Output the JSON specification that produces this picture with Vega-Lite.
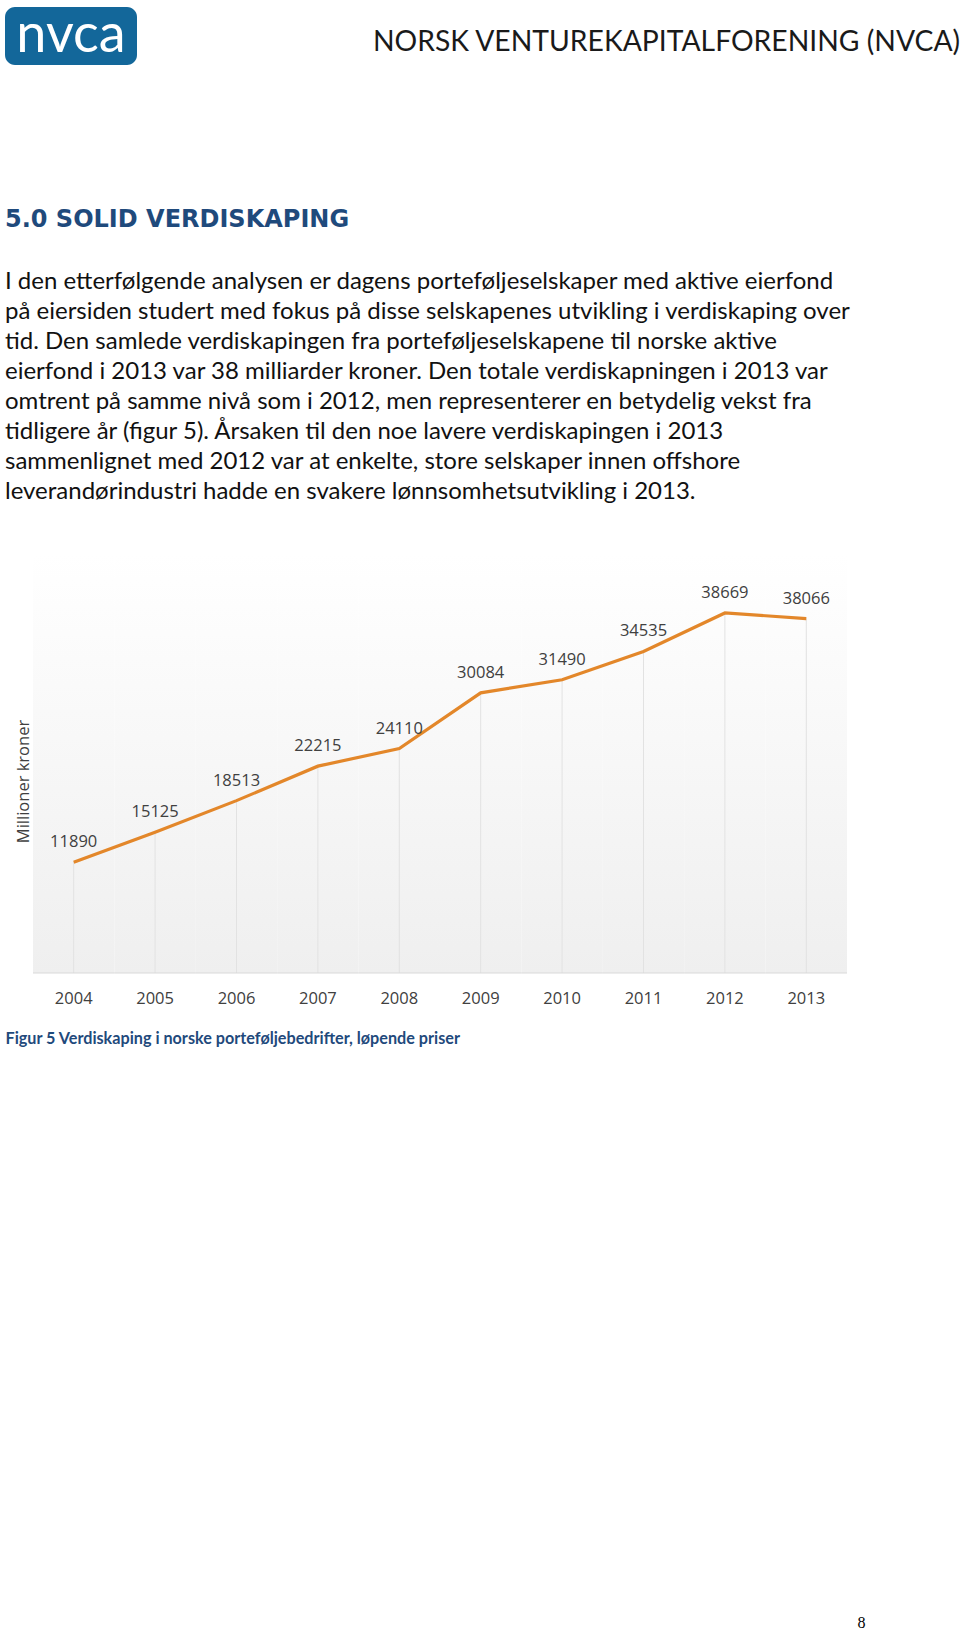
{
  "$schema": "https://vega.github.io/schema/vega-lite/v6.json",
  "background": "white",
  "padding": {"left": 5, "top": 7, "right": 0, "bottom": 0},
  "config": {"view": {"stroke": null}},
  "title": {"text": "8", "orient": "bottom", "anchor": "end", "frame": "bounds", "font": "Liberation Serif", "fontSize": 16, "fontWeight": "normal", "color": "#000000", "offset": 568, "dx": -95},
  "spacing": 143,
  "vconcat": [
    {
      "spacing": 235,
      "hconcat": [
        {
          "width": 132,
          "height": 58,
          "view": {"fill": "#13679a", "cornerRadius": 10, "stroke": null},
          "data": {"values": [{"t": "nvca"}]},
          "mark": {"type": "text", "font": "Lato", "fontSize": 54, "color": "#ffffff", "baseline": "middle"},
          "encoding": {"text": {"field": "t"}}
        },
        {
          "width": 587,
          "height": 58,
          "data": {"values": [{"t": "NORSK VENTUREKAPITALFORENING (NVCA)"}]},
          "mark": {"type": "text", "font": "Lato", "fontSize": 28.3, "color": "#1a1a1a", "baseline": "middle", "dy": 7},
          "encoding": {"text": {"field": "t"}}
        }
      ]
    },
    {
      "width": 842,
      "height": 419,
      "title": {
        "text": "5.0 SOLID VERDISKAPING",
        "subtitle": [
          "I den etterfølgende analysen er dagens porteføljeselskaper med aktive eierfond",
          "på eiersiden studert med fokus på disse selskapenes utvikling i verdiskaping over",
          "tid. Den samlede verdiskapingen fra porteføljeselskapene til norske aktive",
          "eierfond i 2013 var 38 milliarder kroner. Den totale verdiskapningen i 2013 var",
          "omtrent på samme nivå som i 2012, men representerer en betydelig vekst fra",
          "tidligere år (figur 5). Årsaken til den noe lavere verdiskapingen i 2013",
          "sammenlignet med 2012 var at enkelte, store selskaper innen offshore",
          "leverandørindustri hadde en svakere lønnsomhetsutvikling i 2013."
        ],
        "anchor": "start",
        "frame": "bounds",
        "font": "DejaVu Sans",
        "fontSize": 24,
        "fontWeight": "bold",
        "color": "#1f4a7c",
        "subtitleFont": "Lato",
        "subtitleFontSize": 24,
        "subtitleColor": "#111111",
        "subtitleLineHeight": 30,
        "subtitlePadding": 38,
        "offset": 50
      },
      "data": {"values": [
        {"year": "2004", "value": 11890},
        {"year": "2005", "value": 15125},
        {"year": "2006", "value": 18513},
        {"year": "2007", "value": 22215},
        {"year": "2008", "value": 24110},
        {"year": "2009", "value": 30084},
        {"year": "2010", "value": 31490},
        {"year": "2011", "value": 34535},
        {"year": "2012", "value": 38669},
        {"year": "2013", "value": 38066}
      ]},
      "layer": [
        {
          "mark": {"type": "rect", "stroke": null, "fill": {"gradient": "linear", "x1": 0, "y1": 0, "x2": 0, "y2": 1, "stops": [{"offset": 0, "color": "#ffffff"}, {"offset": 1, "color": "#efefef"}]}},
          "encoding": {
            "x": {
              "field": "year", "type": "ordinal",
              "scale": {"type": "band", "paddingInner": 0, "paddingOuter": 0.172, "align": 1},
              "axis": {
                "title": "Figur 5 Verdiskaping i norske porteføljebedrifter, løpende priser",
                "labelAngle": 0, "labelFont": "Open Sans", "labelFontSize": 16.5, "labelColor": "#404040",
                "labelPadding": 17, "ticks": false, "tickSize": 0, "domain": false, "grid": false,
                "titleFont": "Lato", "titleFontSize": 16.2, "titleFontWeight": "bold", "titleColor": "#1f4a7c",
                "titleAnchor": "start", "titleAlign": "left", "titleX": 0, "titlePadding": 24
              }
            }
          }
        },
        {
          "encoding": {
            "x": {
              "field": "year", "type": "ordinal", "bandPosition": 0.5,
              "scale": {"type": "band", "paddingInner": 0, "paddingOuter": 0.172, "align": 1},
              "axis": {
                "title": "Figur 5 Verdiskaping i norske porteføljebedrifter, løpende priser",
                "labelAngle": 0, "labelFont": "Open Sans", "labelFontSize": 16.5, "labelColor": "#404040",
                "labelPadding": 17, "ticks": false, "tickSize": 0, "domain": false, "grid": false,
                "titleFont": "Lato", "titleFontSize": 16.2, "titleFontWeight": "bold", "titleColor": "#1f4a7c",
                "titleAnchor": "start", "titleAlign": "left", "titleX": 0, "titlePadding": 24
              }
            },
            "y": {
              "field": "value", "type": "quantitative",
              "scale": {"domain": [0, 45000], "nice": false},
              "axis": {
                "title": "Millioner kroner", "labels": false, "ticks": false, "domain": false, "grid": false,
                "titleFont": "Open Sans", "titleFontSize": 16.5, "titleFontWeight": "normal", "titleColor": "#404040",
                "titleX": 18, "titleY": 227, "titleBaseline": "middle", "titleAlign": "center", "titleAngle": 270
              }
            }
          },
          "layer": [
            {"mark": {"type": "rule", "color": "#e2e2e2", "strokeWidth": 1}, "encoding": {"y2": {"datum": 0}}},
            {"mark": {"type": "rule", "color": "#d9d9d9", "strokeWidth": 1}, "encoding": {"x": {"field": "year", "type": "ordinal", "bandPosition": 0}, "x2": {"field": "year", "bandPosition": 1}, "y": {"datum": 0}}},
            {"mark": {"type": "line", "color": "#e3872a", "strokeWidth": 3.2}, "encoding": {}},
            {"mark": {"type": "text", "font": "Open Sans", "fontSize": 16.5, "color": "#404040", "baseline": "middle", "dy": -20}, "encoding": {"text": {"field": "value", "type": "quantitative", "format": "d"}}}
          ]
        }
      ]
    }
  ]
}
